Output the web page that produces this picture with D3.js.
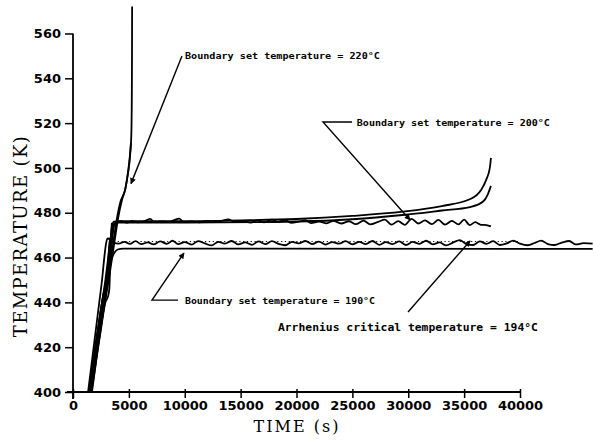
<!DOCTYPE html>
<html>
<head>
<meta charset="utf-8">
<script src="https://cdn.jsdelivr.net/npm/d3@7"></script>
<style>
body { margin: 0; background: #fff; }
</style>
</head>
<body>
<svg id="chart" width="593" height="441"></svg>
<script>
//Axis ticks
var xTicks = [0, 5000, 10000, 15000, 20000, 25000, 30000, 35000, 40000];
var yTicks = [400, 420, 440, 460, 480, 500, 520, 540, 560];

//Runaway runs, boundary 220 C  [time s, temperature K]
var run220a = [[1450,400],[1750,410],[2050,420],[2400,430],[2750,440],[3100,450],[3400,460],[3700,470],[3950,478],[4250,485],[4650,490],[4900,497],[5100,505],[5220,515],[5260,530],[5280,550],[5290,572]];
var run220b = [[1550,400],[1850,410],[2150,420],[2500,430],[2850,440],[3200,450],[3500,460],[3800,470],[4050,478],[4400,486],[4700,491],[4950,499],[5100,506],[5180,511]];

//Boundary 200 C
var run200a = [[1400,400],[1700,410],[2000,420],[2300,430],[2600,440],[2900,450],[3150,460],[3350,468],[3500,474],[3650,476],
  [4300,476.2],[4800,475.6],[5300,476.3],[5800,475.7],[6300,476.0],[6900,477.3],[7300,475.8],[7900,476.1],[8500,475.9],[9000,476.6],
  [9500,477.4],[9900,475.8],[10600,476.1],[11300,475.7],[12000,476.4],[12600,475.8],[13200,476.2],[13900,477.0],[14500,475.9],[15200,476.3],
  [15900,475.6],[16500,476.6],[17100,475.7],[17800,476.9],[18400,476.0],[19000,476.8],[19500,475.5],[20200,476.0],[20800,476.7],[21300,475.4],
  [22000,476.1],[22700,475.3],[23300,476.4],[24000,475.2],[24700,476.2],[25300,474.9],[26000,476.5],[26600,474.8],[27300,475.9],[27900,476.9],
  [28500,474.7],[29100,476.3],[29700,474.6],[30300,477.3],[30900,475.2],[31500,476.6],[32100,474.9],[32700,476.8],[33300,474.7],[33900,476.4],
  [34500,474.8],[35000,476.9],[35500,474.5],[36000,475.8],[36500,474.6],[37000,474.5],[37400,473.9]];
var run200b = [[1600,400],[1900,410],[2200,420],[2500,430],[2800,440],[3050,450],[3300,460],[3500,468],[3650,473.5],[3800,475.8],
  [4300,476.3],[8000,476.2],[15000,476.6],[20000,477.2],[25000,478.6],[29500,480.5],[33000,483],[35500,486],[36500,490],[37000,495],[37300,500],[37400,504.5]];
var run200c = [[1700,400],[2100,415],[2500,428],[2900,440],[3150,443],[3250,446],[3350,460],[3500,471],[3700,475.3],[3900,475.6],
  [10000,475.6],[20000,476.1],[25000,477.1],[29500,479],[33000,481],[35500,482.5],[36700,485],[37100,488],[37400,492]];
//Centre-point traces inside the rising band
var core200 = [[1650,400],[1950,410],[2300,422],[2650,434],[2950,444],[3150,452],[3300,462],[3400,470],[3480,475.5]];
var core190 = [[1500,400],[1800,412],[2150,425],[2500,437],[2750,444],[2950,446],[3050,449],[3150,458],[3250,466],[3350,468.4]];

//Boundary 190 C
var run190a = [[1350,400],[1600,410],[1850,420],[2100,430],[2350,440],[2600,450],[2800,460],[2950,466],[3100,468.5],[3350,468.2],[3600,466.8],
  [4100,466.2],[4600,467.0],[5100,466.1],[5600,467.3],[6100,466.0],[6700,466.8],[7200,465.9],[7800,467.2],[8400,466.1],[8900,467.5],
  [9400,466.0],[10000,466.9],[10600,465.8],[11200,467.3],[11800,466.3],[12400,465.4],[13000,467.0],[13600,466.2],[14200,467.4],[14800,465.9],
  [15400,466.8],[16000,465.7],[16600,467.2],[17200,466.0],[17800,467.3],[18400,466.1],[19000,465.5],[19600,467.0],[20200,466.3],[20800,467.4],
  [21400,466.0],[22000,467.1],[22600,465.8],[23200,466.9],[23800,466.2],[24400,467.3],[25000,465.9],[25600,467.0],[26200,466.0],[26800,467.4],
  [27400,465.7],[28000,466.9],[28600,466.0],[29200,467.2],[29800,465.6],[30400,467.0],[31000,466.1],[31600,467.5],[32200,465.9],[32800,466.8],
  [33400,465.4],[34000,466.7],[34600,467.8],[35200,466.0],[35800,465.6],[36400,467.2],[37000,466.1],[37600,467.3],[38200,465.6],[38800,466.3],
  [39400,467.6],[40000,466.2],[40700,465.5],[41300,466.5],[41900,467.6],[42500,466.0],[43100,465.6],[43800,466.8],[44400,467.4],[45000,465.9],
  [45700,466.4],[46500,466.2]];
var run190b = [[1500,400],[1750,410],[2000,420],[2300,430],[2600,440],[2900,448],[3200,455],[3500,460],[3750,462.5],[4000,463.6],[4500,464.0],[46500,463.9]];

//Arrhenius critical temperature (194 C) dotted reference
var arrheniusT = 467.15;
var arrheniusSpan = [4000, 40000];

//Annotations: label text, label anchor [t, T], leader polyline [t, T]
var annoText = ["Boundary set temperature = 220\u00B0C", "Boundary set temperature = 200\u00B0C", "Boundary set temperature = 190\u00B0C", "Arrhenius critical temperature = 194\u00B0C"];
var annoAt = [[10020, 548.5], [25400, 518.5], [10020, 439.2], [18340, 427.3]];
var annoLeader = [
  [[9750, 550], [5190, 493]],
  [[24970, 520.5], [22370, 520.5], [30160, 476.8]],
  [[9400, 441], [7070, 441], [9930, 462]],
  [[29980, 435.7], [35530, 467.4]]
];

//Layout
var annoWidth = [195, 193, 190, 260];
var annoSize = [8.5, 8.5, 8.5, 11];

var svg = d3.select("#chart");

var x = d3.scaleLinear().domain([0, 40000]).range([73, 520]);
var y = d3.scaleLinear().domain([400, 560]).range([392, 33.5]);

//Axes
var xAxis = svg.append("g")
    .attr("transform", "translate(0," + y(400) + ")")
    .call(d3.axisBottom(x).tickValues(xTicks).tickSize(6).tickPadding(3).tickFormat(d3.format("d")));
var yAxis = svg.append("g")
    .attr("transform", "translate(" + x(0) + ",0)")
    .call(d3.axisLeft(y).tickValues(yTicks).tickSize(8).tickPadding(4));

[xAxis, yAxis].forEach(function(g) {
    g.select(".domain").remove();
    g.selectAll("line").attr("stroke", "#000").attr("stroke-width", 1.5);
    g.selectAll("text")
        .attr("fill", "#000")
        .style("font-family", "DejaVu Sans")
        .style("font-weight", "bold")
        .style("font-size", "13px");
});
xAxis.selectAll(".tick line").attr("y1", -3);

//Axis lines, slightly overshooting the origin
svg.append("line")
    .attr("x1", x(0) - 6).attr("x2", x(40000))
    .attr("y1", y(400)).attr("y2", y(400))
    .attr("stroke", "#000").attr("stroke-width", 1.8);
svg.append("line")
    .attr("x1", x(0)).attr("x2", x(0))
    .attr("y1", y(400) + 7).attr("y2", y(560))
    .attr("stroke", "#000").attr("stroke-width", 1.8);

//Axis titles
svg.append("text")
    .attr("x", 297).attr("y", 432)
    .attr("text-anchor", "middle")
    .style("font-family", "DejaVu Serif")
    .style("font-size", "16px")
    .style("letter-spacing", "2px")
    .text("TIME (s)");
svg.append("text")
    .attr("transform", "translate(27,236) rotate(-90)")
    .attr("text-anchor", "middle")
    .style("font-family", "DejaVu Serif")
    .style("font-size", "18px")
    .style("letter-spacing", "1.4px")
    .text("TEMPERATURE (K)");

//Dotted Arrhenius line
svg.append("line")
    .attr("x1", x(arrheniusSpan[0])).attr("x2", x(arrheniusSpan[1]))
    .attr("y1", y(arrheniusT)).attr("y2", y(arrheniusT))
    .attr("stroke", "#000").attr("stroke-width", 1)
    .attr("stroke-dasharray", "1.2,2.6");

//Curves
var line = d3.line()
    .x(function(d) { return x(d[0]); })
    .y(function(d) { return y(d[1]); })
    .curve(d3.curveMonotoneX);

var runs = [run220a, run220b, run200a, run200b, run200c, core200, core190, run190a, run190b];
svg.append("g").selectAll("path")
    .data(runs)
    .enter().append("path")
    .attr("d", line)
    .attr("fill", "none")
    .attr("stroke", "#000")
    .attr("stroke-width", 1.8)
    .attr("stroke-linejoin", "round");

//Arrow head marker
svg.append("defs").append("marker")
    .attr("id", "arrow")
    .attr("viewBox", "0 0 10 10")
    .attr("refX", 9).attr("refY", 5)
    .attr("markerWidth", 8).attr("markerHeight", 6)
    .attr("markerUnits", "userSpaceOnUse")
    .attr("orient", "auto")
    .append("path")
    .attr("d", "M0,0 L10,5 L0,10 Z")
    .attr("fill", "#000");

var leader = d3.line()
    .x(function(d) { return x(d[0]); })
    .y(function(d) { return y(d[1]); });

svg.append("g").selectAll("path")
    .data(annoLeader)
    .enter().append("path")
    .attr("d", leader)
    .attr("fill", "none")
    .attr("stroke", "#000")
    .attr("stroke-width", 1.4)
    .attr("marker-end", "url(#arrow)");

svg.append("g").selectAll("text")
    .data(annoText)
    .enter().append("text")
    .attr("x", function(d, i) { return x(annoAt[i][0]); })
    .attr("y", function(d, i) { return y(annoAt[i][1]); })
    .attr("textLength", function(d, i) { return annoWidth[i]; })
    .attr("lengthAdjust", "spacingAndGlyphs")
    .style("font-family", "DejaVu Sans Mono")
    .style("font-weight", "bold")
    .style("font-size", function(d, i) { return annoSize[i] + "px"; })
    .text(function(d) { return d; });
</script>
</body>
</html>
